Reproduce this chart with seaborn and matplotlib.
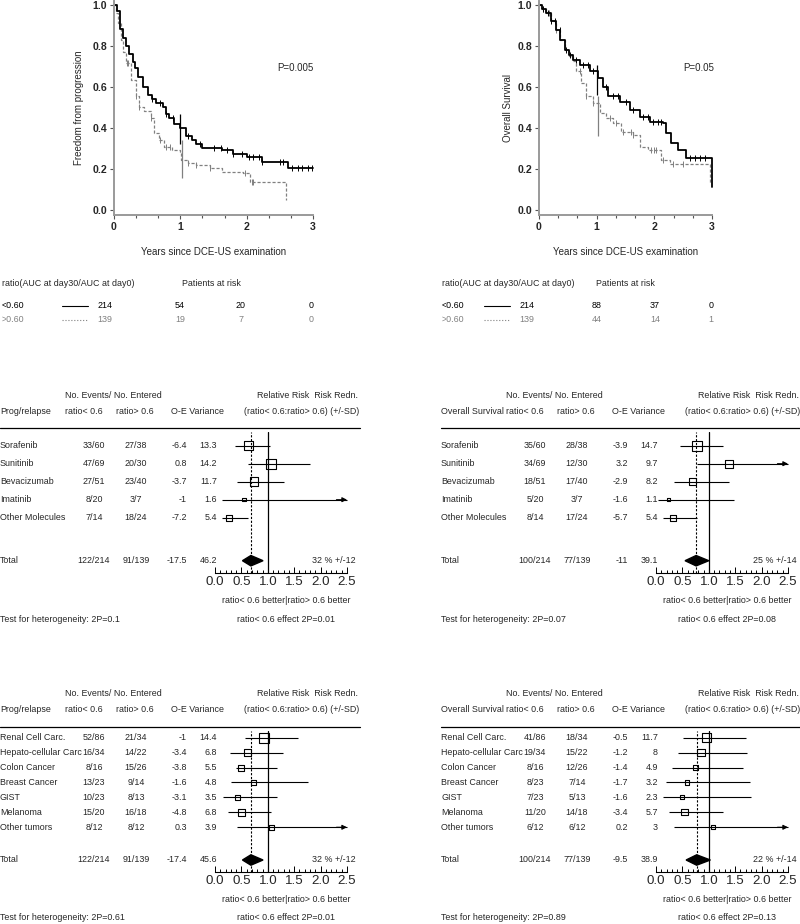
import numpy as np
import matplotlib
matplotlib.use("Agg")
import matplotlib.pyplot as plt
import seaborn as sns
from matplotlib import transforms
from matplotlib.lines import Line2D
from matplotlib.ticker import MultipleLocator, FormatStrFormatter

FIG_W, FIG_H = 800, 924
GREY = "#808080"
BODY = 6.4

# ---- Kaplan-Meier curves (step points) ----
pfs_low_t = [0, 0.05, 0.087, 0.13, 0.178, 0.23, 0.28, 0.32, 0.355, 0.43, 0.51, 0.57, 0.635, 0.735,
             0.79, 0.836, 0.91, 0.99, 1.09, 1.17, 1.24, 1.32, 1.626, 1.80, 2.0, 2.23, 2.63, 3.0]
pfs_low_s = [1.0, 0.97, 0.88, 0.84, 0.80, 0.76, 0.72, 0.69, 0.65, 0.60, 0.56, 0.54, 0.52, 0.50,
             0.47, 0.45, 0.42, 0.40, 0.36, 0.34, 0.32, 0.30, 0.29, 0.275, 0.26, 0.236, 0.204, 0.204]
pfs_high_t = [0, 0.03, 0.066, 0.10, 0.14, 0.178, 0.254, 0.33, 0.38, 0.45, 0.558, 0.609, 0.685, 0.761,
              0.87, 0.99, 1.015, 1.12, 1.24, 1.45, 1.63, 1.95, 2.05, 2.59]
pfs_high_s = [1.0, 0.96, 0.91, 0.83, 0.77, 0.715, 0.634, 0.553, 0.504, 0.48, 0.447, 0.374, 0.341, 0.309,
              0.29, 0.276, 0.244, 0.228, 0.22, 0.204, 0.187, 0.179, 0.138, 0.05]
pfs_cens_low = [0.58, 0.69, 0.79, 0.89, 1.12, 1.29, 1.50, 1.62, 1.70, 1.80, 1.93, 2.03, 2.10, 2.18,
                2.23, 2.51, 2.55, 2.69, 2.77, 2.84, 2.92, 2.99]
pfs_cens_high = [0.19, 0.21, 0.33, 0.38, 0.56, 0.69, 0.79, 0.84, 1.12, 1.24, 1.45, 1.98, 2.08, 2.10]
pfs_bar_low = (1.0, 0.32, 0.469)
pfs_bar_high = (1.03, 0.154, 0.341)

os_low_t = [0, 0.06, 0.127, 0.2, 0.30, 0.37, 0.445, 0.52, 0.59, 0.705, 0.879, 1.02, 1.11, 1.197,
            1.40, 1.57, 1.75, 1.92, 2.15, 2.21, 2.295, 2.41, 2.555, 3.0]
os_low_s = [1.0, 0.98, 0.959, 0.92, 0.878, 0.83, 0.78, 0.755, 0.732, 0.707, 0.675, 0.642, 0.60, 0.553,
            0.528, 0.488, 0.455, 0.43, 0.423, 0.374, 0.325, 0.293, 0.252, 0.114]
os_high_t = [0, 0.06, 0.127, 0.2, 0.30, 0.37, 0.445, 0.52, 0.59, 0.647, 0.734, 0.82, 0.936, 1.05,
             1.17, 1.28, 1.43, 1.63, 1.75, 1.89, 2.12, 2.27, 2.96]
os_high_s = [1.0, 0.98, 0.959, 0.92, 0.878, 0.83, 0.78, 0.75, 0.724, 0.675, 0.618, 0.553, 0.52, 0.472,
             0.447, 0.423, 0.382, 0.366, 0.309, 0.293, 0.244, 0.224, 0.13]
os_cens_low = [0.07, 0.16, 0.21, 0.27, 0.36, 0.47, 0.53, 0.65, 0.76, 0.85, 0.94, 1.17, 1.28, 1.37,
               1.51, 1.63, 1.80, 1.89, 1.98, 2.06, 2.12, 2.61, 2.70, 2.79, 2.87]
os_cens_high = [0.07, 0.18, 0.30, 0.705, 0.82, 0.94, 1.23, 1.34, 1.46, 1.60, 1.63, 1.95, 2.0, 2.03,
                2.15, 2.32, 2.50]
os_bar_low = (1.0, 0.561, 0.707)
os_bar_high = (1.02, 0.358, 0.553)

# ---- patients at risk ----
risk_groups = ["<0.60", ">0.60"]
pfs_risk_low = [214, 54, 20, 0]
pfs_risk_high = [139, 19, 7, 0]
os_risk_low = [214, 88, 37, 0]
os_risk_high = [139, 44, 14, 1]

# ---- forest plots ----
molecules = ["Sorafenib", "Sunitinib", "Bevacizumab", "Imatinib", "Other Molecules"]
tumors = ["Renal Cell Carc.", "Hepato-cellular Carc", "Colon Cancer", "Breast Cancer", "GIST",
          "Melanoma", "Other tumors"]

pfs_mol_low = ["33/60", "47/69", "27/51", "8/20", "7/14"]
pfs_mol_high = ["27/38", "20/30", "23/40", "3/7", "18/24"]
pfs_mol_oe = ["-6.4", "0.8", "-3.7", "-1", "-7.2"]
pfs_mol_var = ["13.3", "14.2", "11.7", "1.6", "5.4"]
pfs_mol_rr = [0.63, 1.06, 0.74, 0.55, 0.27]
pfs_mol_ci_lo = [0.38, 0.63, 0.42, 0.13, 0.14]
pfs_mol_ci_hi = [1.05, 1.79, 1.31, np.inf, 0.63]
pfs_mol_total = ["122/214", "91/139", "-17.5", "46.2"]
pfs_mol_total_rr = [0.68, 0.52, 0.91]
pfs_mol_redn = "32 % +/-12"
pfs_mol_het = "Test for heterogeneity: 2P=0.1"
pfs_mol_eff = "ratio< 0.6 effect 2P=0.01"

os_mol_low = ["35/60", "34/69", "18/51", "5/20", "8/14"]
os_mol_high = ["28/38", "12/30", "17/40", "3/7", "17/24"]
os_mol_oe = ["-3.9", "3.2", "-2.9", "-1.6", "-5.7"]
os_mol_var = ["14.7", "9.7", "8.2", "1.1", "5.4"]
os_mol_rr = [0.77, 1.38, 0.69, 0.24, 0.33]
os_mol_ci_lo = [0.46, 0.77, 0.35, 0.03, 0.14]
os_mol_ci_hi = [1.27, np.inf, 1.38, 1.47, 0.78]
os_mol_total = ["100/214", "77/139", "-11", "39.1"]
os_mol_total_rr = [0.76, 0.55, 1.0]
os_mol_redn = "25 % +/-14"
os_mol_het = "Test for heterogeneity: 2P=0.07"
os_mol_eff = "ratio< 0.6 effect 2P=0.08"

pfs_tum_low = ["52/86", "16/34", "8/16", "13/23", "10/23", "15/20", "8/12"]
pfs_tum_high = ["21/34", "14/22", "15/26", "9/14", "8/13", "16/18", "8/12"]
pfs_tum_oe = ["-1", "-3.4", "-3.8", "-1.6", "-3.1", "-4.8", "0.3"]
pfs_tum_var = ["14.4", "6.8", "5.5", "4.8", "3.5", "6.8", "3.9"]
pfs_tum_rr = [0.93, 0.61, 0.50, 0.73, 0.42, 0.50, 1.07]
pfs_tum_ci_lo = [0.57, 0.28, 0.39, 0.30, 0.15, 0.24, 0.41]
pfs_tum_ci_hi = [1.57, 1.29, 1.17, 1.77, 1.18, 1.07, np.inf]
pfs_tum_total = ["122/214", "91/139", "-17.4", "45.6"]
pfs_tum_total_rr = [0.68, 0.52, 0.91]
pfs_tum_redn = "32 % +/-12"
pfs_tum_het = "Test for heterogeneity: 2P=0.61"
pfs_tum_eff = "ratio< 0.6 effect 2P=0.01"

os_tum_low = ["41/86", "19/34", "8/16", "8/23", "7/23", "11/20", "6/12"]
os_tum_high = ["18/34", "15/22", "12/26", "7/14", "5/13", "14/18", "6/12"]
os_tum_oe = ["-0.5", "-1.2", "-1.4", "-1.7", "-1.6", "-3.4", "0.2"]
os_tum_var = ["11.7", "8", "4.9", "3.2", "2.3", "5.7", "3"]
os_tum_rr = [0.96, 0.85, 0.75, 0.59, 0.49, 0.54, 1.08]
os_tum_ci_lo = [0.52, 0.41, 0.30, 0.19, 0.13, 0.24, 0.34]
os_tum_ci_hi = [1.70, 1.73, 1.64, 1.78, 1.80, 1.26, np.inf]
os_tum_total = ["100/214", "77/139", "-9.5", "38.9"]
os_tum_total_rr = [0.77, 0.57, 1.03]
os_tum_redn = "22 % +/-14"
os_tum_het = "Test for heterogeneity: 2P=0.89"
os_tum_eff = "ratio< 0.6 effect 2P=0.13"

TOP_ROWS = {"head1": 396, "head2": 411, "rule": 428.3, "row0": 445.7, "step": 18.0,
            "total": 560.7, "axis": 573.0, "better": 600.7, "test": 619.0}
BOTTOM_ROWS = {"head1": 694, "head2": 710, "rule": 726.7, "row0": 737.7, "step": 14.93,
               "total": 860.0, "axis": 872.3, "better": 899.3, "test": 917.7}


def fx(px):
    return px / FIG_W


def fy(py):
    return 1 - py / FIG_H


sns.set_theme(style="white")
plt.rcParams["font.family"] = ["Liberation Sans", "DejaVu Sans"]
fig = plt.figure(figsize=(FIG_W / 100, FIG_H / 100), dpi=100)


def km_panel(left, right, low, high, cens, bars, ylabel, ylab_x, ptext, ptext_x):
    ax = fig.add_axes([fx(left), fy(215), fx(right) - fx(left), (215 - 0.6) / FIG_H])
    styles = [(GREY, (0, (2.5, 1.5)), 0.9), ("black", "-", 1.3)]
    for (t, s), c, bar, (color, ls, lw) in zip((high, low), cens, bars, styles):
        sns.lineplot(x=t, y=s, ax=ax, color=color, linestyle=ls, linewidth=lw,
                     drawstyle="steps-post", estimator=None, sort=False, clip_on=False)
        idx = np.searchsorted(t, c, side="right") - 1
        ax.plot(c, np.asarray(s)[idx], ls="none", marker="|", ms=4, mew=0.7, color=color)
        ax.vlines(bar[0], bar[1], bar[2], color=color, lw=0.9)
    ax.set_xlim(0, 3)
    ax.set_ylim(-0.0244, 1.02)
    for side in ("top", "right"):
        ax.spines[side].set_visible(False)
    for side in ("left", "bottom"):
        ax.spines[side].set_color("#9a9a9a")
        ax.spines[side].set_linewidth(1.4)
    ax.xaxis.set_major_locator(MultipleLocator(1))
    ax.xaxis.set_minor_locator(MultipleLocator(1 / 3))
    ax.yaxis.set_major_locator(MultipleLocator(0.2))
    ax.yaxis.set_major_formatter(FormatStrFormatter("%.1f"))
    ax.tick_params(which="both", direction="out", color="#555555", width=0.8,
                   bottom=True, left=True, labelsize=7.6, pad=2)
    ax.tick_params(which="major", length=3)
    ax.tick_params(which="minor", length=2)
    for lab in ax.get_xticklabels() + ax.get_yticklabels():
        lab.set_fontweight("bold")
    ax.set_ylabel(ylabel, fontsize=7)
    ax.yaxis.set_label_coords(-(left - ylab_x) / (right - left), 0.5)
    ax.set_xlabel("Years since DCE-US examination", fontsize=7)
    ax.xaxis.set_label_coords(0.5, -(248 - 215) / (215 - 0.6) - 0.02)
    ax.xaxis.label.set_va("center")
    fig.text(fx(ptext_x), fy(68), ptext, fontsize=7, ha="left", va="center")
    return ax


def risk_table(x0, header2_x, line_x, num_x, low, high):
    fig.text(fx(x0), fy(283), "ratio(AUC at day30/AUC at day0)", fontsize=BODY, va="center")
    fig.text(fx(header2_x), fy(283), "Patients at risk", fontsize=BODY, va="center")
    for row_y, group, counts, color, ls in ((306, risk_groups[0], low, "black", "-"),
                                            (319.5, risk_groups[1], high, GREY, ":")):
        fig.text(fx(x0), fy(row_y), group, fontsize=BODY, va="center", color=color)
        fig.add_artist(Line2D([fx(line_x[0]), fx(line_x[1])], [fy(row_y)] * 2,
                              color=color, lw=0.8, ls=ls))
        for x, n in zip(num_x, counts):
            fig.text(fx(x), fy(row_y), str(n), fontsize=BODY, va="center", ha="center", color=color)


def forest_panel(ox, lay, title, names, n_low, n_high, oe, var, rr, ci_lo, ci_hi,
                 total, total_rr, redn, het, eff):
    top = lay["rule"] + 4
    ax = fig.add_axes([fx(ox + 215), fy(lay["axis"]), 132 / FIG_W, (lay["axis"] - top) / FIG_H])
    rows = np.arange(len(names))
    total_y = (lay["total"] - lay["row0"]) / lay["step"]
    ax.set_xlim(0, 2.5)
    ax.set_ylim((lay["axis"] - lay["row0"]) / lay["step"], (top - lay["row0"]) / lay["step"])

    ax.axvline(1.0, color="black", lw=0.9)
    ax.axvline(total_rr[0], color="black", lw=0.8, ls=(0, (2, 1.5)))

    hi_clip = np.minimum(ci_hi, 2.5)
    ax.hlines(rows, ci_lo, hi_clip, color="black", lw=0.8, clip_on=False)
    for y, lo, hi in zip(rows, ci_lo, ci_hi):
        if np.isinf(hi):
            ax.annotate("", xy=(2.5, y), xytext=(2.3, y),
                        arrowprops=dict(arrowstyle="-|>", color="black", lw=0.8,
                                        mutation_scale=7, shrinkA=0, shrinkB=0))
    weights = [float(v) for v in var]
    sns.scatterplot(x=rr, y=rows, size=weights, sizes=(0, 68), size_norm=(0, 20), marker="s",
                    color="black", facecolor="none", edgecolor="black", linewidth=0.8,
                    legend=False, ax=ax, clip_on=False)
    c, lo, hi = total_rr
    h = 5.2 / lay["step"]
    ax.fill([lo, c, hi, c], [total_y, total_y - h, total_y, total_y + h], color="black",
            clip_on=False)

    for side in ("top", "right", "left"):
        ax.spines[side].set_visible(False)
    ax.spines["bottom"].set_color("black")
    ax.spines["bottom"].set_linewidth(0.8)
    ax.set_yticks([])
    ax.xaxis.set_major_locator(MultipleLocator(0.5))
    ax.xaxis.set_minor_locator(MultipleLocator(0.1))
    ax.xaxis.set_major_formatter(FormatStrFormatter("%.1f"))
    ax.tick_params(axis="x", which="both", direction="in", bottom=True, color="black",
                   width=0.7, labelsize=9.6, pad=2)
    ax.tick_params(axis="x", which="major", length=4)
    ax.tick_params(axis="x", which="minor", length=2)
    ax.set_xlabel("")
    ax.set_ylabel("")

    tr = transforms.blended_transform_factory(fig.transFigure, ax.transData)
    labels = list(names) + ["Total"]
    ys = list(rows) + [total_y]
    cols = [list(n_low) + [total[0]], list(n_high) + [total[1]],
            list(oe) + [total[2]], list(var) + [total[3]]]
    for i, (lab, y) in enumerate(zip(labels, ys)):
        ax.text(fx(ox), y, lab, transform=tr, fontsize=BODY, va="center", ha="left")
        ax.text(fx(ox + 94), y, cols[0][i], transform=tr, fontsize=BODY, va="center", ha="center")
        ax.text(fx(ox + 136), y, cols[1][i], transform=tr, fontsize=BODY, va="center", ha="center")
        ax.text(fx(ox + 187), y, cols[2][i], transform=tr, fontsize=BODY, va="center", ha="right")
        ax.text(fx(ox + 217), y, cols[3][i], transform=tr, fontsize=BODY, va="center", ha="right")
    ax.text(fx(ox + 356), total_y, redn, transform=tr, fontsize=BODY, va="center", ha="right")

    fig.text(fx(ox + 65), fy(lay["head1"]), "No. Events/ No. Entered", fontsize=BODY, va="center")
    fig.text(fx(ox + 358), fy(lay["head1"]), "Relative Risk  Risk Redn.", fontsize=BODY,
             va="center", ha="right")
    fig.text(fx(ox), fy(lay["head2"]), title, fontsize=BODY, va="center")
    fig.text(fx(ox + 65), fy(lay["head2"]), "ratio< 0.6", fontsize=BODY, va="center")
    fig.text(fx(ox + 116), fy(lay["head2"]), "ratio> 0.6", fontsize=BODY, va="center")
    fig.text(fx(ox + 171), fy(lay["head2"]), "O-E Variance", fontsize=BODY, va="center")
    fig.text(fx(ox + 359), fy(lay["head2"]), "(ratio< 0.6:ratio> 0.6) (+/-SD)", fontsize=BODY,
             va="center", ha="right")
    fig.add_artist(Line2D([fx(ox), fx(ox + 360)], [fy(lay["rule"])] * 2, color="black", lw=0.9))

    fig.text(fx(ox + 286), fy(lay["better"]), "ratio< 0.6 better|ratio> 0.6 better",
             fontsize=BODY, va="center", ha="center")
    fig.text(fx(ox + 286), fy(lay["test"]), eff, fontsize=BODY, va="center", ha="center")
    fig.text(fx(ox), fy(lay["test"]), het, fontsize=BODY, va="center")


km_panel(114, 313, (pfs_low_t, pfs_low_s), (pfs_high_t, pfs_high_s),
         (pfs_cens_high, pfs_cens_low), (pfs_bar_high, pfs_bar_low),
         "Freedom from progression", 84, "P=0.005", 277)
km_panel(539, 712, (os_low_t, os_low_s), (os_high_t, os_high_s),
         (os_cens_high, os_cens_low), (os_bar_high, os_bar_low),
         "Overall Survival", 513, "P=0.05", 683)

risk_table(2, 182, (62, 88), (105, 180, 241, 311), pfs_risk_low, pfs_risk_high)
risk_table(442, 596, (484, 510), (527, 597, 655, 711), os_risk_low, os_risk_high)

forest_panel(0, TOP_ROWS, "Prog/relapse", molecules, pfs_mol_low, pfs_mol_high, pfs_mol_oe,
             pfs_mol_var, pfs_mol_rr, pfs_mol_ci_lo, pfs_mol_ci_hi, pfs_mol_total,
             pfs_mol_total_rr, pfs_mol_redn, pfs_mol_het, pfs_mol_eff)
forest_panel(441, TOP_ROWS, "Overall Survival", molecules, os_mol_low, os_mol_high, os_mol_oe,
             os_mol_var, os_mol_rr, os_mol_ci_lo, os_mol_ci_hi, os_mol_total,
             os_mol_total_rr, os_mol_redn, os_mol_het, os_mol_eff)
forest_panel(0, BOTTOM_ROWS, "Prog/relapse", tumors, pfs_tum_low, pfs_tum_high, pfs_tum_oe,
             pfs_tum_var, pfs_tum_rr, pfs_tum_ci_lo, pfs_tum_ci_hi, pfs_tum_total,
             pfs_tum_total_rr, pfs_tum_redn, pfs_tum_het, pfs_tum_eff)
forest_panel(441, BOTTOM_ROWS, "Overall Survival", tumors, os_tum_low, os_tum_high, os_tum_oe,
             os_tum_var, os_tum_rr, os_tum_ci_lo, os_tum_ci_hi, os_tum_total,
             os_tum_total_rr, os_tum_redn, os_tum_het, os_tum_eff)

fig.savefig("out.png", dpi=100, facecolor="white")
